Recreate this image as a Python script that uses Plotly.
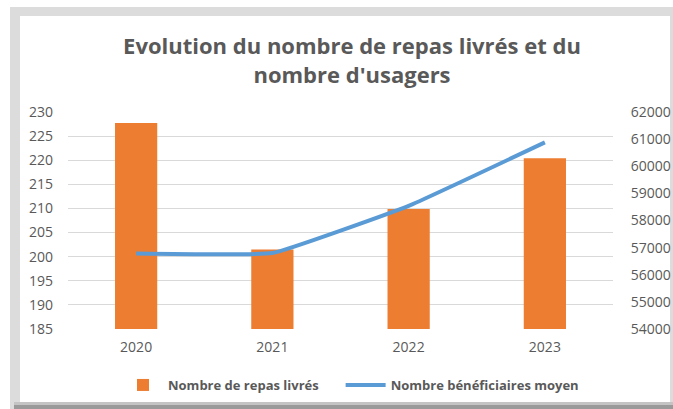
import plotly.graph_objects as go

years = ["2020", "2021", "2022", "2023"]
repas = [227.7, 201.5, 209.9, 220.4]
beneficiaires = [56780, 56800, 58540, 60880]

W, H = 673, 409
L, R, T, B = 68, 60, 112, 80
pw, ph = W - L - R, H - T - B

def px_x(x):
    return (x - L) / pw

def px_y(y):
    return (H - B - y) / ph

fig = go.Figure()
fig.add_trace(go.Bar(
    x=years, y=repas, name="<b>Nombre de repas livrés</b>" + "\u00a0" * 5,
    marker=dict(color="#ED7D31", line=dict(width=0)), width=0.31,
    yaxis="y",
))
fig.add_trace(go.Scatter(
    x=years, y=beneficiaires, name="<b>Nombre bénéficiaires moyen</b>",
    mode="lines", line=dict(color="#5B9BD5", width=4, shape="spline", smoothing=0.3),
    yaxis="y2",
))

shapes = [
    dict(type="rect", xref="paper", yref="paper", x0=px_x(10), x1=px_x(673), y0=px_y(7), y1=px_y(409),
         fillcolor="#dcdcdc", line=dict(width=0), layer="below"),
    dict(type="rect", xref="paper", yref="paper", x0=px_x(14), x1=px_x(673), y0=px_y(402), y1=px_y(405),
         fillcolor="#c4c4c4", line=dict(width=0), layer="below"),
    dict(type="rect", xref="paper", yref="paper", x0=px_x(14), x1=px_x(673), y0=px_y(405), y1=px_y(409),
         fillcolor="#9a9a9a", line=dict(width=0), layer="below"),
    dict(type="rect", xref="paper", yref="paper", x0=px_x(20), x1=px_x(670), y0=px_y(16), y1=px_y(402),
         fillcolor="#ffffff", line=dict(width=0), layer="below"),
]

font_family = "Open Sans, Liberation Sans, sans-serif"
fig.update_layout(
    width=W, height=H,
    margin=dict(l=L, r=R, t=T, b=B, pad=0, autoexpand=False),
    paper_bgcolor="#ffffff", plot_bgcolor="rgba(0,0,0,0)",
    font=dict(family=font_family, size=14, color="#595959"),
    title=dict(text="<b>Evolution du nombre de repas livrés et du<br>nombre d'usagers</b>",
               x=352 / W, xanchor="center", y=1 - 54 / H, yanchor="top",
               font=dict(family=font_family, size=22, color="#595959")),
    xaxis=dict(type="category", showgrid=False, showline=False, zeroline=False,
               ticks="", tickfont=dict(size=14, color="#595959"), ticklabelstandoff=8),
    yaxis=dict(range=[185, 230], dtick=5, showgrid=True, gridcolor="#d9d9d9", gridwidth=1,
               zeroline=False, showline=False, ticks="", ticklabelstandoff=14,
               tickfont=dict(size=14, color="#595959")),
    yaxis2=dict(range=[54000, 62000], dtick=1000, tickformat="d", overlaying="y", side="right",
                showgrid=False, zeroline=False, showline=False,
                ticks="outside", ticklen=14, tickcolor="rgba(0,0,0,0)",
                tickfont=dict(size=14, color="#595959")),
    legend=dict(orientation="h", x=px_x(118), xanchor="left", y=px_y(370), yanchor="top",
                font=dict(size=13, color="#595959", family=font_family),
                bgcolor="rgba(0,0,0,0)", itemwidth=40, tracegroupgap=0),
    showlegend=True,
    shapes=shapes,
)

fig.write_html("out.html", config={"displayModeBar": False},
               post_script="document.body.style.margin='0';document.body.style.overflow='hidden';")
